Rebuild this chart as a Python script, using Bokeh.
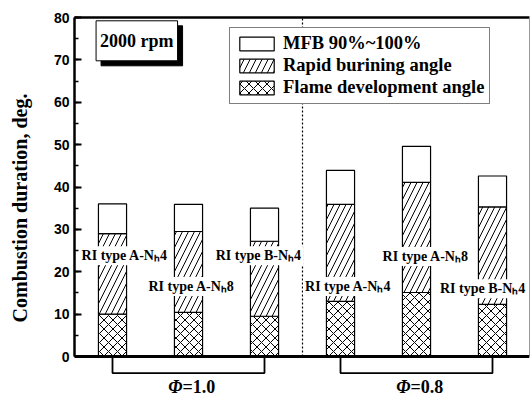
from bokeh.plotting import figure
from bokeh.models import (ColumnDataSource, Range1d, LinearAxis, SingleIntervalTicker,
                          FixedTicker, Span, Legend, LegendItem, Label)
from bokeh.core.properties import value
from bokeh.embed import file_html
from bokeh.resources import INLINE

# ---------------- data ----------------
bar_pos = [1, 2, 3, 4, 5, 6]
bar_names = ["RI type A-N\u20954", "RI type A-N\u20958", "RI type B-N\u20954",
             "RI type A-N\u20954", "RI type A-N\u20958", "RI type B-N\u20954"]
flame_dev = [10.0, 10.4, 9.5, 13.0, 15.1, 12.3]      # Flame development angle
rapid_burn = [19.0, 19.1, 17.7, 22.9, 26.0, 23.0]    # Rapid burining angle
mfb_tail = [7.0, 6.4, 7.8, 8.0, 8.5, 7.3]            # MFB 90%~100%

label_x = [1.16, 2.04, 2.92, 4.10, 5.12, 5.87]
label_y = [23.8, 16.5, 23.8, 16.5, 23.6, 16.0]

groups = ["=1.0", "=0.8"]
group_first = [1, 4]
group_last = [3, 6]

y_ticks_interval = 10

# ---------------- derived ----------------
t0 = flame_dev
t1 = [a + b for a, b in zip(flame_dev, rapid_burn)]
t2 = [a + b for a, b in zip(t1, mfb_tail)]

src = ColumnDataSource(dict(x=bar_pos, b0=[0] * 6, t0=t0, t1=t1, t2=t2))

SERIF = value("Liberation Serif")

W, H = 530, 398
BL, BR, BT, BB = 74, 1, 17, 0
FW = W - BL - BR
FH = H - BT - BB
PX_PER_UNIT = 339 / 80.0

p = figure(width=W, height=H, min_border_left=BL, min_border_top=BT,
           min_border_bottom=BB, min_border_right=BR,
           x_range=Range1d(0.5, 0.5 + FW / 76), y_range=Range1d(80 - FH / PX_PER_UNIT, 80),
           x_axis_location=None, output_backend="svg", toolbar_location=None)
p.outline_line_color = None
p.grid.visible = False
p.background_fill_color = "white"
p.border_fill_color = "white"

# left axis
ya = p.yaxis[0]
ya.bounds = (0, 80)
ya.ticker = SingleIntervalTicker(interval=y_ticks_interval, num_minor_ticks=2)
ya.axis_line_width = 2.5
ya.major_tick_in = 7
ya.major_tick_out = 0
ya.minor_tick_in = 4
ya.minor_tick_out = 0
ya.major_tick_line_width = 2
ya.minor_tick_line_width = 1.5
ya.major_label_text_font = "Liberation Sans"
ya.major_label_text_font_style = "bold"
ya.major_label_text_font_size = "14px"
ya.major_label_text_color = "black"
ya.major_label_standoff = 5
ya.axis_label = "Combustion duration, deg."
ya.axis_label_text_font = "Liberation Serif"
ya.axis_label_text_font_style = "bold"
ya.axis_label_text_font_size = "20px"
ya.axis_label_text_color = "black"
ya.axis_label_standoff = 20

# top border as axis (no ticks)
top = LinearAxis(ticker=FixedTicker(ticks=[]), axis_line_width=2.5,
                 major_tick_line_color=None, minor_tick_line_color=None,
                 major_label_text_color=None, major_label_standoff=0)
p.add_layout(top, "above")

# right border (faint, mostly cut off in the source)
right = LinearAxis(bounds=(0, 80), ticker=FixedTicker(ticks=[]), axis_line_width=1,
                   axis_line_color="#999999", major_tick_line_color=None,
                   minor_tick_line_color=None, major_label_text_color=None,
                   major_label_standoff=0)
p.add_layout(right, "right")

# bottom axis line at 0
p.add_layout(Span(location=0, dimension="width", line_color="black", line_width=3))

# bars
w = 0.37
r_flame = p.vbar(x="x", bottom="b0", top="t0", width=w, source=src, fill_color="white",
                 line_color="black", line_width=1.2, hatch_pattern="x",
                 hatch_color="black", hatch_scale=9, hatch_weight=1)
r_rapid = p.vbar(x="x", bottom="t0", top="t1", width=w, source=src, fill_color="white",
                 line_color="black", line_width=1.2, hatch_pattern="/",
                 hatch_color="black", hatch_scale=12, hatch_weight=1)
r_mfb = p.vbar(x="x", bottom="t1", top="t2", width=w, source=src, fill_color="white",
               line_color="black", line_width=1.2)

# divider
p.segment(x0=[3.5], y0=[0], x1=[3.5], y1=[80], line_color="black", line_width=1.2,
          line_dash="2 2")

# bar labels with white background
lsrc = ColumnDataSource(dict(x=label_x, y=label_y, text=bar_names))
p.text(x="x", y="y", text="text", source=lsrc, text_font=SERIF, text_font_style="bold",
       text_font_size=value("14px"), text_align="center", text_baseline="middle",
       text_color="black", background_fill_color="white", padding=2)

# brackets
depth = -3.9
xs = [[a, a, b, b] for a, b in zip(group_first, group_last)]
ys = [[0, depth, depth, 0] for _ in groups]
p.multi_line(xs=xs, ys=ys, line_color="black", line_width=1.8)

gx = [(a + b) / 2 for a, b in zip(group_first, group_last)]
gsrc = ColumnDataSource(dict(x=gx, y=[-7.1] * 2, phi=["\u03a6"] * 2, rest=groups))
p.text(x="x", y="y", text="phi", source=gsrc, text_font=SERIF, text_font_style="bold italic",
       text_font_size=value("18px"), text_align="right", text_baseline="middle",
       x_offset=-6, text_color="black")
p.text(x="x", y="y", text="rest", source=gsrc, text_font=SERIF, text_font_style="bold",
       text_font_size=value("18px"), text_align="left", text_baseline="middle",
       x_offset=-6, text_color="black")

# 2000 rpm box with shadow
shadow = Label(x=1.32, y=74.5, text="2000 rpm", text_align="center", text_baseline="middle",
               text_font="Liberation Serif", text_font_style="bold", text_font_size="18px",
               text_color="black", background_fill_color="black", border_line_color="black",
               padding=(4, 10), x_offset=5, y_offset=-5)
box = Label(x=1.32, y=74.5, text="2000 rpm", text_align="center", text_baseline="middle",
            text_font="Liberation Serif", text_font_style="bold", text_font_size="18px",
            text_color="black", background_fill_color="white", border_line_color="black",
            border_line_width=1, padding=(4, 10))
p.add_layout(shadow)
p.add_layout(box)

# legend
legend = Legend(items=[LegendItem(label="MFB 90%~100%", renderers=[r_mfb]),
                       LegendItem(label="Rapid burining angle", renderers=[r_rapid]),
                       LegendItem(label="Flame development angle", renderers=[r_flame])],
                location=(155, FH - 87), glyph_width=43, glyph_height=17, label_height=19,
                spacing=1, padding=5, label_standoff=5,
                label_text_font="Liberation Serif", label_text_font_style="bold",
                label_text_font_size="18.5px", label_text_color="black",
                border_line_color="black", border_line_width=1,
                background_fill_color="white", background_fill_alpha=1)
p.add_layout(legend)

open("out.html", "w").write(file_html(p, INLINE))
